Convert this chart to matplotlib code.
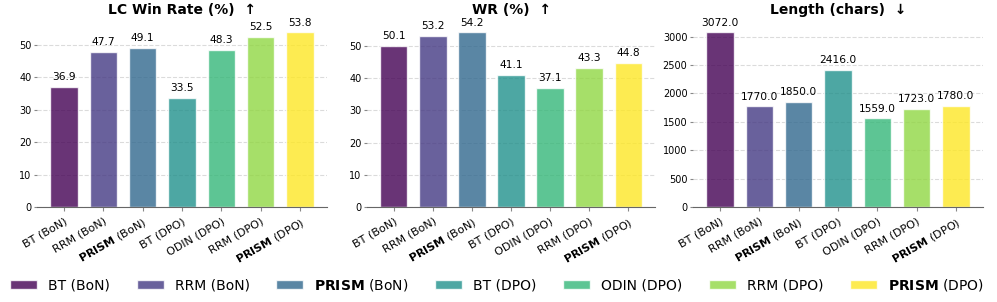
import matplotlib
matplotlib.use("Agg")
import matplotlib.pyplot as plt
import numpy as np

methods = ["BT (BoN)", "RRM (BoN)", r"$\bf{PRISM}$ (BoN)", "BT (DPO)",
           "ODIN (DPO)", "RRM (DPO)", r"$\bf{PRISM}$ (DPO)"]
lc_win_rate = [36.9, 47.7, 49.1, 33.5, 48.3, 52.5, 53.8]
wr = [50.1, 53.2, 54.2, 41.1, 37.1, 43.3, 44.8]
length_chars = [3072.0, 1770.0, 1850.0, 2416.0, 1559.0, 1723.0, 1780.0]
titles = [r"LC Win Rate (%)  ↑", r"WR (%)  ↑", r"Length (chars)  ↓"]
series = [lc_win_rate, wr, length_chars]

colors = plt.cm.viridis(np.linspace(0, 1, len(methods)))

W, H = 997, 302
fig = plt.figure(figsize=(W / 100, H / 100), dpi=100)
axes_px = [(37, 327), (367, 655), (693, 983)]
top_px, bottom_px = 22, 207

handles = None
for (x0, x1), vals, title in zip(axes_px, series, titles):
    ax = fig.add_axes([x0 / W, 1 - bottom_px / H, (x1 - x0) / W, (bottom_px - top_px) / H])
    x = np.arange(len(methods))
    bars = ax.bar(x, vals, width=0.7, color=colors, alpha=0.8,
                  edgecolor="white", linewidth=1)
    if handles is None:
        handles = bars
    ax.set_ylim(0, max(vals) * 1.06)
    ax.set_title(title, fontsize=10, fontweight="bold", pad=6)
    ax.set_xticks(x)
    ax.set_xticklabels(methods, rotation=30, ha="right", fontsize=8,
                       rotation_mode="anchor")
    ax.tick_params(axis="y", labelsize=7, color="#888888", length=2.5, pad=1.5)
    ax.tick_params(axis="x", color="#888888", length=3)
    for s in ["top", "right", "left"]:
        ax.spines[s].set_visible(False)
    ax.spines["bottom"].set_color("#666666")
    ax.grid(axis="y", linestyle="--", color="#cccccc", alpha=0.7, linewidth=0.8)
    ax.set_axisbelow(True)
    for xi, v in zip(x, vals):
        ax.annotate(f"{v:.1f}", (xi, v), xytext=(0, 3.5), textcoords="offset points",
                    ha="center", va="bottom", fontsize=7.7, clip_on=False)

fig.legend(handles, methods, loc="center", bbox_to_anchor=(0.4985, 1 - 285 / H),
           ncol=7, frameon=False, fontsize=10, handlelength=1.95,
           handleheight=0.6, handletextpad=0.8, columnspacing=1.9)

fig.savefig("out.png", dpi=100)
